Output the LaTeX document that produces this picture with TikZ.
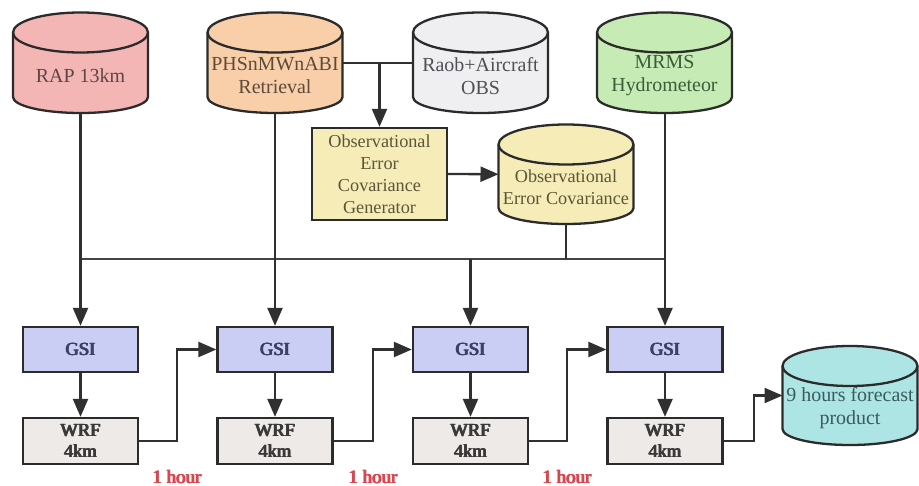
\documentclass[tikz,border=0pt]{standalone}
\usepackage{fontspec}
\setmainfont{Liberation Serif}
\usetikzlibrary{arrows.meta,calc}
\definecolor{linec}{HTML}{303030}
\definecolor{busc}{HTML}{444444}
\definecolor{edgec}{HTML}{2B2B2B}
\definecolor{rapf}{HTML}{F4B5B5}
\definecolor{rapt}{HTML}{5E4646}
\definecolor{phsf}{HTML}{F9CFAA}
\definecolor{phst}{HTML}{5E4A3A}
\definecolor{raobf}{HTML}{EFEFF1}
\definecolor{raobt}{HTML}{4F4F55}
\definecolor{mrmsf}{HTML}{C7EBB5}
\definecolor{mrmst}{HTML}{3D5C3A}
\definecolor{yelf}{HTML}{F5ECB7}
\definecolor{yelt}{HTML}{5A5638}
\definecolor{fcf}{HTML}{ADE4E4}
\definecolor{fct}{HTML}{3A5B5B}
\definecolor{gsif}{HTML}{CBCEF4}
\definecolor{gsit}{HTML}{3D3F66}
\definecolor{wrff}{HTML}{EDEAE7}
\definecolor{wrft}{HTML}{3A3838}
\definecolor{hourc}{HTML}{D8474F}

% heavy text drawn from overlaid copies of the regular face
\newcommand\heavytxt[1]{\leavevmode\rlap{#1}\kern0.45bp\rlap{\raisebox{0.35bp}{#1}}\kern0.45bp\rlap{#1}\kern0.3bp#1}

% #1 name, #2 centre x, #3 top y, #4 bottom y, #5 fill, #6 text colour, #7 text
\newcommand\dbcyl[7]{%
  \pgfmathsetmacro\cylCY{-(#3+#4)/2}%
  \pgfmathsetmacro\cylH{#4-#3}%
  \node[cylbox, minimum height=\cylH bp] (#1) at (#2,\cylCY) {};
  \filldraw[cylline, fill=#5] ([yshift=-20bp]#1.north west) -- ([yshift=16bp]#1.south west)
    arc[start angle=180, end angle=360, x radius=67.5bp, y radius=16bp]
    -- ([yshift=-20bp]#1.north east)
    arc[start angle=0, end angle=180, x radius=67.5bp, y radius=20bp] -- cycle;
  \draw[cylline] ([yshift=-20bp]#1.north west)
    arc[start angle=180, end angle=360, x radius=67.5bp, y radius=20bp];
  \node[cyltext, text=#6] (#1-txt) at ([yshift=-13bp]#1.center) {#7};
}

\begin{document}
\begin{tikzpicture}[x=1bp, y=1bp,
  line/.style={draw=linec, line width=2.3bp},
  arr/.style={line, -{Triangle[length=18bp, width=15bp]}},
  bus/.style={draw=busc, line width=1.8bp},
  cylbox/.style={inner sep=0pt, outer sep=0pt, minimum width=135bp},
  cylline/.style={draw=edgec, line width=2.3bp},
  cyltext/.style={align=center, inner sep=0pt, font=\fontsize{20}{23}\selectfont},
  procbox/.style={draw=edgec, line width=2.3bp, inner sep=0pt, align=center},
  gsibox/.style={procbox, fill=gsif, text=gsit, minimum width=115bp, minimum height=45bp,
    font=\fontsize{18.5}{21}\selectfont},
  wrfbox/.style={procbox, fill=wrff, text=wrft, minimum width=115bp, minimum height=46bp,
    font=\fontsize{18.5}{21}\selectfont},
  genbox/.style={procbox, fill=yelf, text=yelt, minimum width=135bp, minimum height=92bp,
    font=\fontsize{18.3}{22}\selectfont},
  hour/.style={text=hourc, inner sep=0pt, font=\fontsize{19}{20}\selectfont}
]
\useasboundingbox (0,0) rectangle (919,-486);

% data stores
\dbcyl{rap}{80.5}{12.5}{113}{rapf}{rapt}{RAP 13km}
\dbcyl{phs}{275}{12.5}{113}{phsf}{phst}{PHSnMWnABI\\Retrieval}
\dbcyl{raob}{480.5}{12.5}{113}{raobf}{raobt}{Raob+Aircraft\\OBS}
\dbcyl{mrms}{664.5}{12.5}{113}{mrmsf}{mrmst}{MRMS\\Hydrometeor}
\dbcyl{oec}{566}{124.5}{224}{yelf}{yelt}{\fontsize{18.3}{23}\selectfont Observational\\\fontsize{18.3}{23}\selectfont Error Covariance}
\dbcyl{fc}{850}{346}{445}{fcf}{fct}{9 hours forecast\\product}

% generator
\node[genbox] (gen) at (379.5,-174) {Observational\\Error\\Covariance\\Generator};

% GSI and WRF
\node[gsibox] (gsi1) at (80.5,-349.5) {\heavytxt{GSI}};
\node[gsibox] (gsi2) at (275,-349.5) {\heavytxt{GSI}};
\node[gsibox] (gsi3) at (470.5,-349.5) {\heavytxt{GSI}};
\node[gsibox] (gsi4) at (665,-349.5) {\heavytxt{GSI}};
\node[wrfbox] (wrf1) at (80.5,-441) {\heavytxt{WRF}\\\heavytxt{4km}};
\node[wrfbox] (wrf2) at (275,-441) {\heavytxt{WRF}\\\heavytxt{4km}};
\node[wrfbox] (wrf3) at (470.5,-441) {\heavytxt{WRF}\\\heavytxt{4km}};
\node[wrfbox] (wrf4) at (665,-441) {\heavytxt{WRF}\\\heavytxt{4km}};

% labels
\node[hour] (h1) at (177,-477) {\heavytxt{1 hour}};
\node[hour] (h2) at (373,-477) {\heavytxt{1 hour}};
\node[hour] (h3) at (567,-477) {\heavytxt{1 hour}};

\coordinate (bus) at (0,-259);

% connectors
\draw[line] (phs.east) -- (raob.west);
\draw[arr] (gen.north |- phs.east) -- (gen.north);
\draw[arr] (gen.east) -- (oec.west);
\draw[bus] (rap.south |- bus) -- (gsi4.north |- bus);
\draw[line] (oec.south) -- (oec.south |- bus);
\draw[arr] (rap.south) -- (gsi1.north);
\draw[arr] (phs.south) -- (gsi2.north);
\draw[arr] (gsi3.north |- bus) -- (gsi3.north);
\draw[arr] (mrms.south -| gsi4.north) -- (gsi4.north);

\draw[arr] (gsi1.south) -- (wrf1.north);
\draw[arr] (gsi2.south) -- (wrf2.north);
\draw[arr] (gsi3.south) -- (wrf3.north);
\draw[arr] (gsi4.south) -- (wrf4.north);

\draw[arr] (wrf1.east) -- (wrf1.east -| h1) |- (gsi2.west);
\draw[arr] (wrf2.east) -- (wrf2.east -| h2) |- (gsi3.west);
\draw[arr] (wrf3.east) -- (wrf3.east -| h3) |- (gsi4.west);
\draw[arr] (wrf4.east) -- ($(wrf4.east)+(30,0)$) |- (fc.west);
\end{tikzpicture}
\end{document}
